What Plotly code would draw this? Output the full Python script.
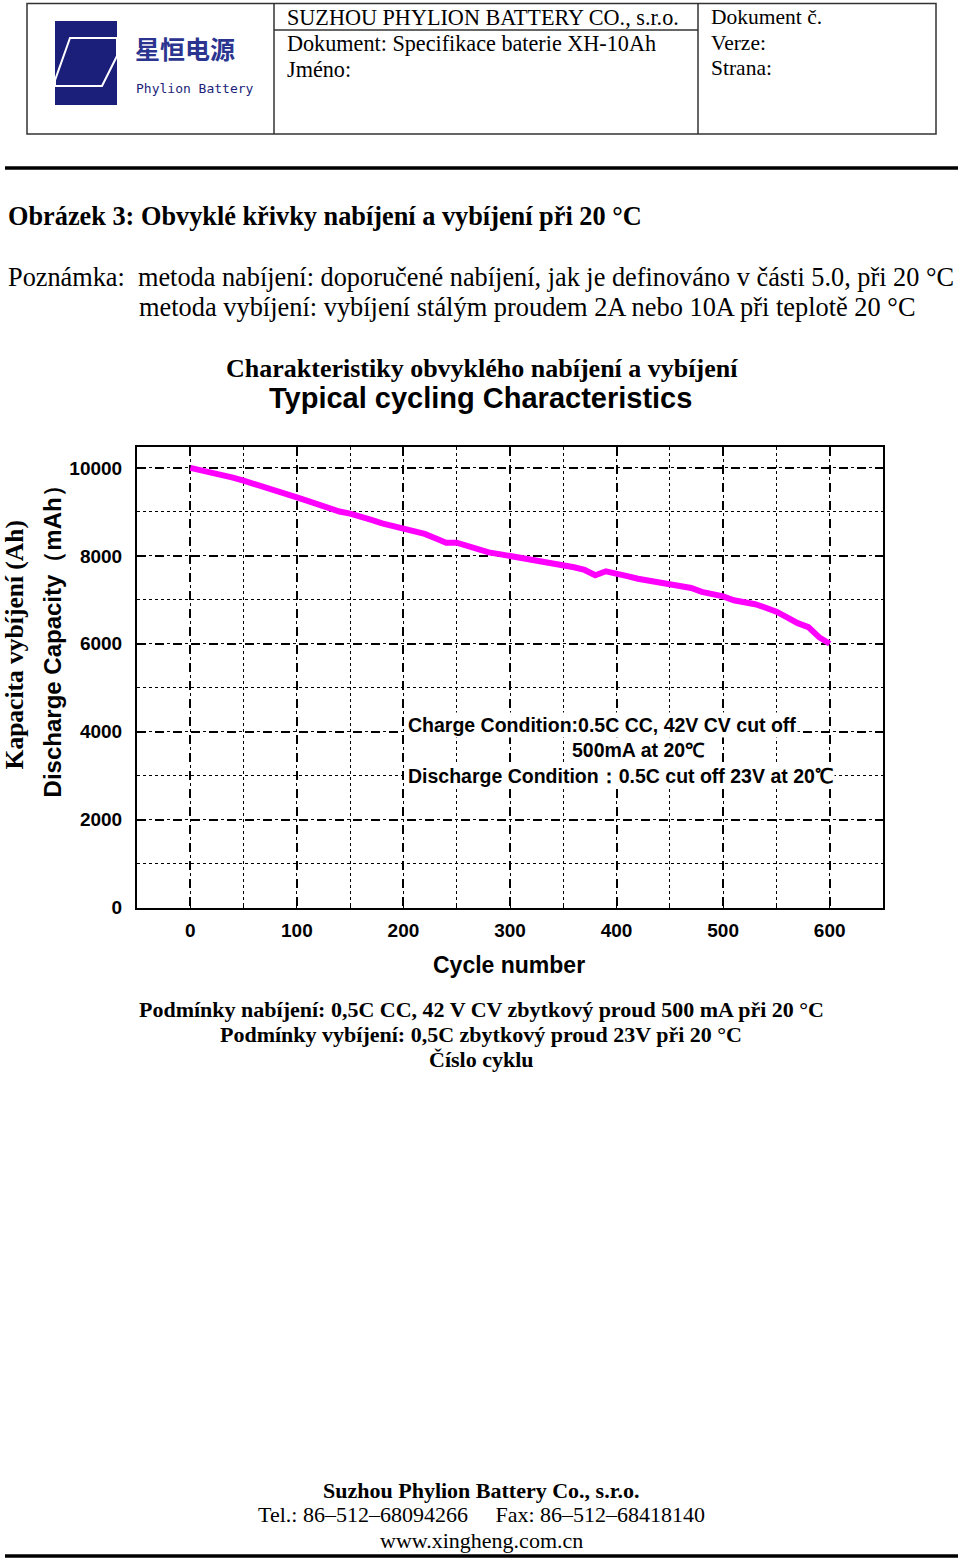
import plotly.graph_objects as go

# reference page size (all positions below are given in reference pixels)
REF_W, REF_H = 960, 1558
# figure size: the captured page area is slightly taller than the reference image
W, H = 960, 1570

# ---- data ----
cycles = [0, 10, 20, 30, 40, 50, 60, 70, 80, 90, 100, 110, 120, 130, 140, 150, 160, 170, 180, 190,
          200, 210, 220, 230, 240, 250, 260, 270, 280, 290, 300, 310, 320, 330, 340, 350, 360, 370,
          380, 390, 400, 410, 420, 430, 440, 450, 460, 470, 480, 490, 500, 510, 520, 530, 540, 550,
          560, 570, 580, 590, 600]
capacity_mah = [10000, 9950, 9900, 9840, 9780, 9710, 9640, 9560, 9480, 9400, 9330, 9250, 9160, 9080,
                9010, 8960, 8900, 8820, 8740, 8680, 8640, 8580, 8500, 8400, 8300, 8300, 8220, 8130,
                8080, 8040, 8000, 7960, 7900, 7880, 7830, 7790, 7740, 7680, 7560, 7650, 7580, 7540,
                7480, 7440, 7420, 7360, 7330, 7270, 7180, 7130, 7080, 6990, 6960, 6900, 6820, 6730,
                6600, 6470, 6380, 6150, 6000]
x_ticks = [0, 100, 200, 300, 400, 500, 600]
y_ticks = [0, 2000, 4000, 6000, 8000, 10000]


def X(px):
    return px / REF_W


def Y(py):
    return 1 - py / REF_H


fig = go.Figure()
fig.add_trace(go.Scatter(x=cycles, y=capacity_mah, mode="lines",
                         line=dict(color="#FF00FF", width=6), showlegend=False))

SERIF = "Liberation Serif, Times New Roman, serif"
SANS = "Liberation Sans, Arial, sans-serif"

fig.update_layout(
    width=W, height=H, margin=dict(l=0, r=0, t=0, b=0),
    paper_bgcolor="white", plot_bgcolor="white",
    xaxis=dict(domain=[X(137), X(883)], range=[-50, 650],
               tickvals=x_ticks, ticktext=[f"<b>{v}</b>" for v in x_ticks],
               tickfont=dict(family=SANS, size=19, color="black"),
               showline=True, linecolor="black", linewidth=2, mirror=True,
               ticks="inside", ticklen=4, tickcolor="black",
               showgrid=True, gridcolor="black", gridwidth=2, griddash="dash",
               minor=dict(dtick=50, tick0=0, showgrid=True, gridcolor="black", gridwidth=1,
                          griddash="dot", ticks="inside", ticklen=3),
               zeroline=False, ticklabelstandoff=5),
    yaxis=dict(domain=[Y(907), Y(447)], range=[0, 10470],
               tickvals=y_ticks, ticktext=[f"<b>{v}</b>" for v in y_ticks],
               tickfont=dict(family=SANS, size=19, color="black"),
               showline=True, linecolor="black", linewidth=2, mirror=True,
               ticks="", showgrid=True, gridcolor="black", gridwidth=2, griddash="dash",
               minor=dict(dtick=1000, tick0=0, showgrid=True, gridcolor="black", gridwidth=1,
                          griddash="dot"),
               zeroline=False, ticklabelstandoff=9),
)

shapes = []
# header table
shapes.append(dict(type="rect", xref="paper", yref="paper", x0=X(27), x1=X(936), y0=Y(134), y1=Y(3.5),
                   line=dict(color="#333", width=1.5)))
shapes.append(dict(type="line", xref="paper", yref="paper", x0=X(274), x1=X(274), y0=Y(134), y1=Y(3.5),
                   line=dict(color="#333", width=1.5)))
shapes.append(dict(type="line", xref="paper", yref="paper", x0=X(698), x1=X(698), y0=Y(134), y1=Y(3.5),
                   line=dict(color="#333", width=1.5)))
shapes.append(dict(type="line", xref="paper", yref="paper", x0=X(274), x1=X(698), y0=Y(30), y1=Y(30),
                   line=dict(color="#333", width=1.5)))
# logo
shapes.append(dict(type="rect", xref="paper", yref="paper", x0=X(55), x1=X(117), y0=Y(105), y1=Y(21),
                   line=dict(width=0), fillcolor="#1c1f7a"))
shapes.append(dict(type="path", xref="paper", yref="paper",
                   path=f"M {X(70)},{Y(38)} L {X(117)},{Y(38)} L {X(117)},{Y(56)} L {X(102)},{Y(86)} "
                        f"L {X(55)},{Y(86)} L {X(55)},{Y(80)} Z",
                   line=dict(color="white", width=2), fillcolor="#1c1f7a"))
# thick rules
shapes.append(dict(type="line", xref="paper", yref="paper", x0=X(5), x1=X(958), y0=Y(168), y1=Y(168),
                   line=dict(color="black", width=3.5)))
shapes.append(dict(type="line", xref="paper", yref="paper", x0=X(5), x1=X(958), y0=Y(1555), y1=Y(1555),
                   line=dict(color="black", width=3.5)))
fig.update_layout(shapes=shapes)


def txt(t, x, y, size, family=SERIF, anchor="left", color="black", angle=0, bg=None):
    d = dict(text=t, x=X(x), y=Y(y), xref="paper", yref="paper", showarrow=False,
             xanchor=anchor, yanchor="middle", font=dict(family=family, size=size, color=color),
             textangle=angle)
    if bg:
        d["bgcolor"] = bg
    fig.add_annotation(**d)


# header texts
txt("<b>星恒电源</b>", 133, 48, 25, family="Noto Sans CJK SC", color="#2b3590")
txt("Phylion Battery", 134, 88, 13, family="DejaVu Sans Mono", color="#1c1f7a")
txt("SUZHOU PHYLION BATTERY CO., s.r.o.", 285, 17, 22.2)
txt("Dokument: Specifikace baterie XH-10Ah", 285, 43, 22.2)
txt("Jméno:", 285, 69, 22.2)
txt("Dokument č.", 709, 17, 21.5)
txt("Verze:", 709, 43, 21.5)
txt("Strana:", 709, 68, 21.5)

# body texts
txt("<b>Obrázek 3: Obvyklé křivky nabíjení a vybíjení při 20 °C</b>", 6, 216, 26.3)
txt("Poznámka:  metoda nabíjení: doporučené nabíjení, jak je definováno v části 5.0, při 20 °C", 6, 277, 26.3)
txt("metoda vybíjení: vybíjení stálým proudem 2A nebo 10A při teplotě 20 °C", 137, 307, 26.4)

# chart titles
txt("<b>Charakteristiky obvyklého nabíjení a vybíjení</b>", 482, 368, 26, anchor="center")
txt("<b>Typical cycling Characteristics</b>", 480, 398, 29, family=SANS, anchor="center")
txt("<b>Kapacita vybíjení (Ah)</b>", 14, 645, 25.5, anchor="center", angle=-90)
txt("<b>Discharge Capacity（mAh）</b>", 52, 635, 24, family=SANS, anchor="center", angle=-90)
txt("<b>Cycle number</b>", 509, 964, 23, family=SANS, anchor="center")

# in-chart notes
txt("<b>Charge Condition:0.5C CC, 42V CV cut off</b>", 406, 725, 19.5, family=SANS, bg="white")
txt("<b>500mA at 20℃</b>", 638, 750, 19.5, family=SANS, anchor="center", bg="white")
txt("<b>Discharge Condition：0.5C cut off 23V at 20℃</b>", 406, 776, 19.5, family=SANS, bg="white")

# below chart
txt("<b>Podmínky nabíjení: 0,5C CC, 42 V CV zbytkový proud 500 mA při 20 °C</b>", 481, 1009, 22, anchor="center")
txt("<b>Podmínky vybíjení: 0,5C zbytkový proud 23V při 20 °C</b>", 481, 1034, 22, anchor="center")
txt("<b>Číslo cyklu</b>", 481, 1059, 22, anchor="center")

# footer
txt("<b>Suzhou Phylion Battery Co., s.r.o.</b>", 481, 1490, 22, anchor="center")
txt("Tel.: 86–512–68094266     Fax: 86–512–68418140", 481, 1514, 22, anchor="center")
txt("www.xingheng.com.cn", 481, 1540, 22, anchor="center")

page_css = "document.body.style.margin='0px';document.body.style.padding='0px';"
fig.write_html("out.html", config={"displayModeBar": False}, post_script=page_css)
